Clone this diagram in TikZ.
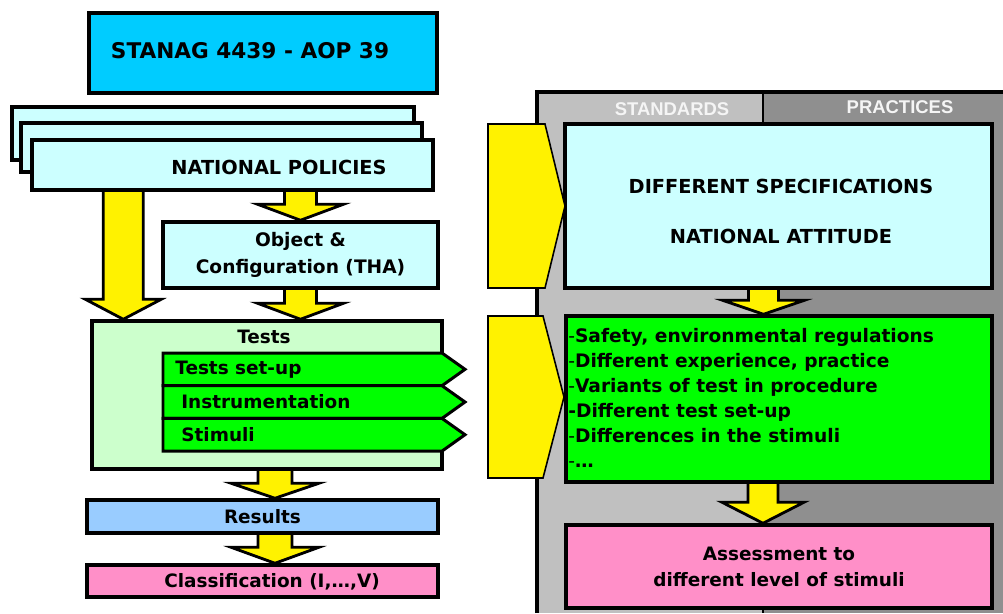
\documentclass[tikz,border=0pt]{standalone}
\usepackage{fontspec}
\setmainfont{DejaVu Sans}
\newfontfamily\headfont{Liberation Sans}
\usetikzlibrary{calc}

\definecolor{stanagblue}{RGB}{0,204,255}
\definecolor{paleblue}{RGB}{204,255,255}
\definecolor{palegreen}{RGB}{204,255,204}
\definecolor{brightgreen}{RGB}{0,255,0}
\definecolor{resblue}{RGB}{153,204,255}
\definecolor{rosepink}{RGB}{255,143,200}
\definecolor{stdgray}{RGB}{192,192,192}
\definecolor{pracgray}{RGB}{143,143,143}

\pgfdeclarelayer{back}
\pgfdeclarelayer{arrows}
\pgfsetlayers{back,arrows,main}

\tikzset{
  box/.style={draw=black, line width=2pt, inner sep=0pt},
  capstext/.style={font=\fontsize{11}{13}\selectfont\bfseries},
  bodytext/.style={font=\fontsize{10.5}{14}\selectfont\bfseries},
  fatarrow/.style={fill=yellow, draw=black, line width=1.6pt, line join=miter},
  chevron/.style={fill=yellow, draw=black, line width=0.9pt},
  tab/.style={fill=brightgreen, draw=black, line width=1.7pt},
  headtext/.style={font=\headfont\fontsize{10.5}{12}\selectfont\bfseries, text=gray!8},
}

% yellow block arrow: start, tip, half shaft, half head, head length
\newcommand{\blockarrow}[5]{%
  \begin{pgfonlayer}{arrows}
  \filldraw[fatarrow] ($(#1)+(-#3,0)$) -- ($(#2)+(-#3,-#5)$) -- ($(#2)+(-#4,-#5)$) -- (#2)
    -- ($(#2)+(#4,-#5)$) -- ($(#2)+(#3,-#5)$) -- ($(#1)+(#3,0)$);
  \end{pgfonlayer}}

\begin{document}
\begin{tikzpicture}[x=0.02cm, y=-0.02cm]
    \useasboundingbox (0,0) rectangle (1003,613);

    % standards / practices panel
    \begin{pgfonlayer}{back}
        \fill[stdgray] (537,92) rectangle (763,613);
        \fill[pracgray] (763,92) rectangle (1003,613);
        \draw[line width=2pt] (537,613) -- (537,92) -- (1003,92);
        \draw[line width=1pt] (763,92) -- (763,613);
    \end{pgfonlayer}
    \node[headtext] (std) at (672,109) {STANDARDS};
    \node[headtext] (prac) at (900,107) {PRACTICES};

    % left column
    \node[box, fill=stanagblue, minimum width=6.96cm, minimum height=1.6cm] (stanag) at (263,53) {};
    \node[font=\fontsize{12.3}{14}\selectfont\bfseries] (stanaglab) at (250,51) {STANAG 4439 - AOP 39};
    \foreach \i/\cx/\cy/\w/\h in {1/213/133.5/8.04/1.06, 2/221.5/147.5/8.02/0.98}
        \node[box, fill=paleblue, minimum width=\w cm, minimum height=\h cm] (npback\i) at (\cx,\cy) {};
    \node[box, fill=paleblue, minimum width=8.02cm, minimum height=1cm] (np) at (232.5,165) {};
    \node[capstext] (nplab) at (279,167) {NATIONAL POLICIES};

    \node[box, fill=paleblue, minimum width=5.5cm, minimum height=1.32cm, align=center,
          font=\fontsize{10.6}{15.3}\selectfont\bfseries] (obj) at (300.5,255) {Object \&\\Configuration (THA)};

    \node[box, fill=palegreen, minimum width=7cm, minimum height=2.96cm] (tests) at (267,395) {};
    \node[bodytext] (testslab) at (264,337) {Tests};
    \foreach \lab/\row/\dx in {Tests set-up/0/12, Instrumentation/1/18, Stimuli/2/18} {
        \pgfmathsetmacro{\ytop}{353+32.7*\row}
        \filldraw[tab] (163,\ytop) -- (442,\ytop) -- (465,\ytop+16.3) -- (442,\ytop+32.7) -- (163,\ytop+32.7) -- cycle;
        \node[bodytext, anchor=west, inner sep=0pt] (tab\row) at (163+\dx,\ytop+16.3) {\lab};
    }

    \node[box, fill=resblue, minimum width=7.02cm, minimum height=0.66cm, bodytext] (results) at (262.5,516.5) {Results};
    \node[box, fill=rosepink, minimum width=7.02cm, minimum height=0.64cm] (classif) at (262.5,581) {};
    \node[bodytext] (classlab) at (272,582) {Classification (I,…,V)};

    % right column
    \node[box, fill=paleblue, minimum width=8.54cm, minimum height=3.28cm] (spec) at (778.5,206) {};
    \node[capstext] (speclab1) at (781,186) {DIFFERENT SPECIFICATIONS};
    \node[capstext] (speclab2) at (781,236) {NATIONAL ATTITUDE};

    \node[box, fill=brightgreen, minimum width=8.52cm, minimum height=3.32cm] (diffs) at (779,399) {};
    \node[anchor=north west, inner sep=0pt, align=left, font=\fontsize{10.6}{14.2}\selectfont\bfseries] (diffslab) at (568,328)
        {{\mdseries -}Safety, environmental regulations\\
         {\mdseries -}Different experience, practice\\
         {\mdseries -}Variants of test in procedure\\
         -Different test set-up\\
         {\mdseries -}Differences in the stimuli\\
         {\mdseries -}\dots};

    \node[box, fill=rosepink, minimum width=8.52cm, minimum height=1.66cm, align=center,
          font=\fontsize{10.5}{14.8}\selectfont\bfseries] (assess) at (779,566.5) {Assessment to\\different level of stimuli};

    % input chevrons
    \filldraw[chevron] (488,124) -- (545,124) -- (565,206) -- (545,288) -- (488,288) -- cycle;
    \filldraw[chevron] (488,316) -- (543,316) -- (564,397) -- (543,478) -- (488,478) -- cycle;

    % block arrows
    \coordinate (polobj) at (np.south -| obj.north);
    \blockarrow{polobj}{obj.north}{16}{43}{16}
    \coordinate (polbig) at ($(np.south west)+(93,0)$);
    \coordinate (polbigtip) at (polbig |- tests.north);
    \blockarrow{polbig}{polbigtip}{20}{38}{20}
    \coordinate (objtip) at (obj.south |- tests.north);
    \blockarrow{obj.south}{objtip}{16}{43}{16}
    \coordinate (testsout) at ($(tests.south)+(8,0)$);
    \coordinate (testsin) at (testsout |- results.north);
    \blockarrow{testsout}{testsin}{17}{44}{15}
    \coordinate (resout) at ($(results.south)+(12.5,0)$);
    \coordinate (resin) at (resout |- classif.north);
    \blockarrow{resout}{resin}{17}{44}{16}
    \coordinate (specout) at ($(spec.south)+(-15,0)$);
    \coordinate (specin) at (specout |- diffs.north);
    \blockarrow{specout}{specin}{15}{41}{14}
    \coordinate (diffout) at ($(diffs.south)+(-16,0)$);
    \coordinate (diffin) at (diffout |- assess.north);
    \blockarrow{diffout}{diffin}{15}{41}{21}
\end{tikzpicture}
\end{document}
